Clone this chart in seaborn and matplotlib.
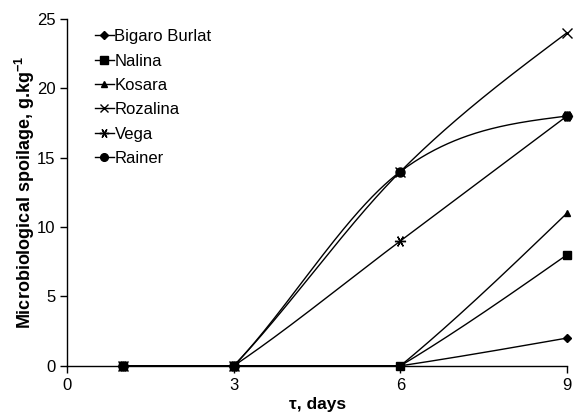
import numpy as np
import matplotlib
matplotlib.use("Agg")
import matplotlib.pyplot as plt
from matplotlib.lines import Line2D
import seaborn as sns

days = [1, 3, 6, 9]
bigaro_burlat = [0, 0, 0, 2]
nalina = [0, 0, 0, 8]
kosara = [0, 0, 0, 11]
rozalina = [0, 0, 14, 24]
vega = [0, 0, 9, 18]
rainer = [0, 0, 14, 18]
series_names = ["Bigaro Burlat", "Nalina", "Kosara", "Rozalina", "Vega", "Rainer"]
series_values = [bigaro_burlat, nalina, kosara, rozalina, vega, rainer]
x_ticks = [0, 3, 6, 9]
y_ticks = [0, 5, 10, 15, 20, 25]

markers = ["D", "s", "^", "x", (6, 2, 90), "o"]
msizes = [4.5, 6, 5, 7, 8, 6.5]


def smooth(x, y, xs):
    """Excel-like smoothed line through the data points (Hermite segments)."""
    x = np.asarray(x, float); y = np.asarray(y, float)
    h = np.diff(x); d = np.diff(y) / h
    n = len(x); m = np.zeros(n)
    for k in range(1, n - 1):
        dl, dr = d[k - 1], d[k]
        if dl == 0 and dr == 0:
            m[k] = 0.0
        elif dl == 0:
            m[k] = 0.9 * dr
        elif dr == 0:
            m[k] = 0.9 * dl
        else:
            m[k] = (y[k + 1] - y[k - 1]) / (x[k + 1] - x[k - 1])
    m[0] = (3 * d[0] - m[1]) / 2
    m[-1] = (3 * d[-1] - m[-2]) / 2
    out = np.empty_like(xs)
    for i, xv in enumerate(xs):
        k = min(np.searchsorted(x, xv, side="right") - 1, n - 2)
        t = (xv - x[k]) / h[k]
        if d[k] == 0:
            out[i] = y[k]
            continue
        h00 = 2 * t**3 - 3 * t**2 + 1; h10 = t**3 - 2 * t**2 + t
        h01 = -2 * t**3 + 3 * t**2; h11 = t**3 - t**2
        out[i] = h00 * y[k] + h10 * h[k] * m[k] + h01 * y[k + 1] + h11 * h[k] * m[k + 1]
    return out


plt.rcParams["font.family"] = ["Liberation Sans", "DejaVu Sans"]
plt.rcParams["mathtext.fontset"] = "custom"
plt.rcParams["mathtext.rm"] = "Liberation Sans"
plt.rcParams["mathtext.bf"] = "Liberation Sans:bold"
fig = plt.figure(figsize=(5.75, 4.2), dpi=100)
ax = fig.add_axes([0.117, 0.129, 0.869, 0.826])

xs = np.linspace(days[0], days[-1], 400)
handles = []
for name, vals, mk, ms in zip(series_names, series_values, markers, msizes):
    ys = smooth(days, vals, xs)
    sns.lineplot(x=xs, y=ys, color="black", linewidth=1.0, ax=ax, sort=False, estimator=None)
    ax.plot(days, vals, linestyle="none", marker=mk, color="black", markersize=ms,
            markeredgewidth=1.0, clip_on=False, zorder=5)
    handles.append(Line2D([0], [0], color="black", linewidth=1.0, marker=mk, markersize=ms * 0.85,
                          markeredgewidth=1.0, label=name))

ax.set_xlim(0, 9)
ax.set_ylim(0, 25)
ax.set_xticks(x_ticks)
ax.set_yticks(y_ticks)
ax.spines["top"].set_visible(False)
ax.spines["right"].set_visible(False)
for s in ["left", "bottom"]:
    ax.spines[s].set_linewidth(1.0)
ax.tick_params(axis="both", direction="out", length=5, width=1.0, labelsize=12, colors="black")
ax.set_xlabel("τ, days", fontsize=12.5, fontweight="bold", labelpad=3)
ax.set_ylabel("Microbiological spoilage, g.kg$^{\\mathbf{-1}}$", fontsize=13, fontweight="bold", labelpad=0)

leg = ax.legend(handles=handles, loc="upper left", bbox_to_anchor=(0.056, 0.97), frameon=False,
                fontsize=12, handlelength=1.1, handletextpad=0.05, labelspacing=0.56,
                borderaxespad=0, borderpad=0)

fig.savefig("out.png", dpi=100)
